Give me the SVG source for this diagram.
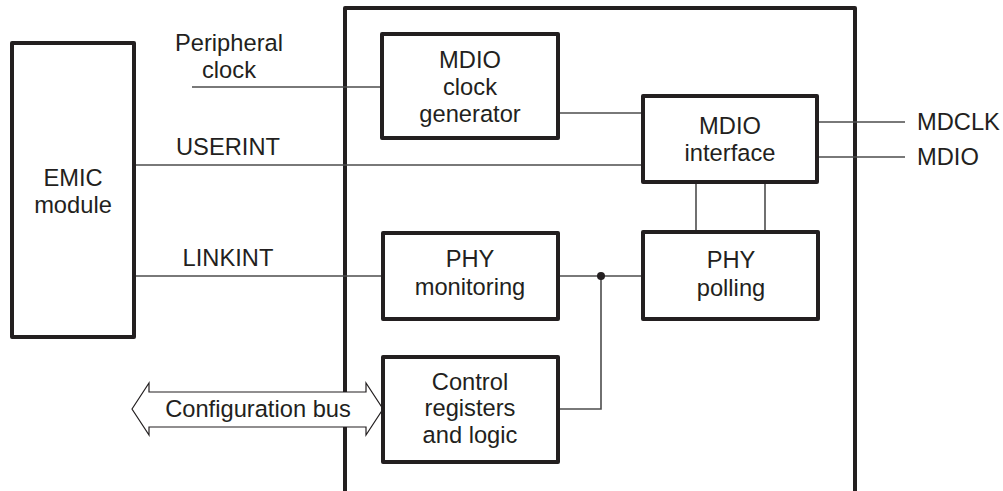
<svg xmlns="http://www.w3.org/2000/svg" width="1003" height="491" viewBox="0 0 1003 491">
<style>
.box{fill:#fff;stroke:#231f20;stroke-width:4;stroke-linejoin:round}
.ln{fill:none;stroke:#4d4d4d;stroke-width:1.6}
text{font-family:"Liberation Sans",Arial,sans-serif;font-size:23.7px;fill:#231f20}
.c{text-anchor:middle}
</style>
<rect width="1003" height="491" fill="#fff"/>
<g id="outer">
<polyline points="345,491 345,8 855,8 855,491" fill="none" stroke="#231f20" stroke-width="4" stroke-linejoin="round"/>
</g>
<g id="connectors">
<line class="ln" x1="192" y1="87" x2="382" y2="87"/>
<line class="ln" x1="134" y1="165" x2="643" y2="165"/>
<line class="ln" x1="134" y1="276" x2="383" y2="276"/>
<line class="ln" x1="558" y1="113" x2="643" y2="113"/>
<line class="ln" x1="817" y1="122" x2="905" y2="122"/>
<line class="ln" x1="817" y1="157" x2="905" y2="157"/>
<line class="ln" x1="696" y1="182" x2="696" y2="232"/>
<line class="ln" x1="765" y1="182" x2="765" y2="232"/>
<line class="ln" x1="558" y1="276" x2="643" y2="276"/>
<polyline class="ln" points="601,276 601,409 558,409"/>
<circle cx="601" cy="276" r="4" fill="#231f20"/>
<polygon points="132,409 149,383 149,392 366,392 366,383 383,409 366,435 366,427 149,427 149,435" fill="#fff" stroke="#231f20" stroke-width="1.2" stroke-linejoin="miter"/>
</g>
<g id="emic">
<rect class="box" x="12" y="43" width="122" height="294"/>
<text class="c" x="73" y="186">EMIC</text>
<text class="c" x="73" y="213">module</text>
</g>
<g id="clockgen">
<rect class="box" x="382" y="34" width="176" height="104"/>
<text class="c" x="470" y="68">MDIO</text>
<text class="c" x="470" y="95">clock</text>
<text class="c" x="470" y="122">generator</text>
</g>
<g id="interface">
<rect class="box" x="643" y="96" width="174" height="86"/>
<text class="c" x="730" y="134">MDIO</text>
<text class="c" x="730" y="161">interface</text>
</g>
<g id="monitoring">
<rect class="box" x="383" y="233" width="175" height="86"/>
<text class="c" x="470" y="267">PHY</text>
<text class="c" x="470" y="295">monitoring</text>
</g>
<g id="polling">
<rect class="box" x="643" y="232" width="175" height="87"/>
<text class="c" x="731" y="268">PHY</text>
<text class="c" x="731" y="296">polling</text>
</g>
<g id="control">
<rect class="box" x="383" y="357" width="175" height="105"/>
<text class="c" x="470" y="390">Control</text>
<text class="c" x="470" y="416">registers</text>
<text class="c" x="470" y="443">and logic</text>
</g>
<g id="labels">
<text class="c" x="229" y="51">Peripheral</text>
<text class="c" x="229" y="78">clock</text>
<text class="c" x="228" y="155">USERINT</text>
<text class="c" x="228" y="266">LINKINT</text>
<text class="c" x="258" y="417">Configuration bus</text>
<text x="917" y="130">MDCLK</text>
<text x="917" y="165">MDIO</text>
</g>
</svg>
